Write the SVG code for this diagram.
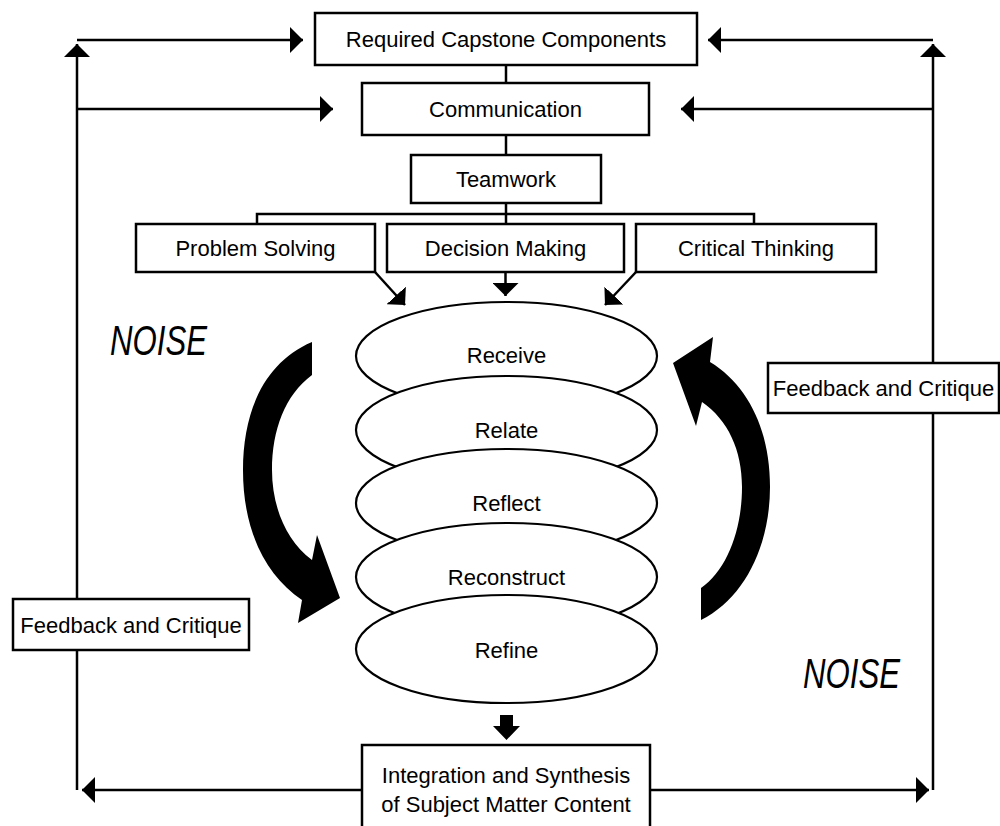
<svg xmlns="http://www.w3.org/2000/svg" width="1000" height="826" viewBox="0 0 1000 826">
<style>
.box{fill:#fff;stroke:#000;stroke-width:2.5}
.ell{fill:#fff;stroke:#000;stroke-width:2.2}
.ln{fill:none;stroke:#000;stroke-width:2.5}
.t{font-family:"Liberation Sans",Arial,sans-serif;font-size:22px;fill:#000;text-anchor:middle}
.noise{font-family:"Liberation Sans",Arial,sans-serif;font-size:42px;font-style:italic;fill:#000}
.blk{fill:#000;stroke:none}
</style>
<defs>
<marker id="ah" markerUnits="userSpaceOnUse" markerWidth="13" markerHeight="26" refX="13" refY="13" orient="auto" viewBox="0 0 13 26">
<path d="M0,0 L13,13 L0,26 Z" fill="#000"/>
</marker>
</defs>
<rect width="1000" height="826" fill="#fff"/>
<g id="connectors">
<line class="ln" x1="77" y1="790" x2="77" y2="44" marker-end="url(#ah)"/>
<line class="ln" x1="933" y1="790" x2="933" y2="44" marker-end="url(#ah)"/>
<line class="ln" x1="77" y1="40" x2="303" y2="40" marker-end="url(#ah)"/>
<line class="ln" x1="76" y1="109" x2="333" y2="109" marker-end="url(#ah)"/>
<line class="ln" x1="933" y1="40" x2="708" y2="40" marker-end="url(#ah)"/>
<line class="ln" x1="934" y1="109" x2="681" y2="109" marker-end="url(#ah)"/>
<line class="ln" x1="506" y1="790" x2="82" y2="790" marker-end="url(#ah)"/>
<line class="ln" x1="506" y1="790" x2="929" y2="790" marker-end="url(#ah)"/>
<line class="ln" x1="506" y1="65" x2="506" y2="83"/>
<line class="ln" x1="506" y1="135" x2="506" y2="155"/>
<line class="ln" x1="506" y1="203" x2="506" y2="224"/>
<polyline class="ln" points="257,224 257,214 754,214 754,224"/>
<line class="ln" x1="375" y1="272" x2="405" y2="305" marker-end="url(#ah)"/>
<line class="ln" x1="505.5" y1="272" x2="505.5" y2="296" marker-end="url(#ah)"/>
<line class="ln" x1="636" y1="272" x2="605" y2="305" marker-end="url(#ah)"/>
<polygon class="blk" points="500,715 513,715 513,726 520,726 506.5,740 493,726 500,726"/>
<path class="blk" d="M312,342 C265,362 243,410 243,470 C243,530 265,575 302,600 L298,623 L340,598 L317,535 L312,560 C285,540 272,505 272,470 C272,430 285,395 312,375 Z"/>
<path class="blk" d="M701,620 C745,598 770,545 770,487 C770,430 748,385 710,362 L713,337 L673,363 L696,426 L702,402 C728,420 742,450 742,487 C742,530 727,570 701,588 Z"/>
</g>
<g id="required">
<rect class="box" x="315" y="13" width="382" height="52"/>
<text class="t" x="506" y="47">Required Capstone Components</text>
</g>
<g id="communication">
<rect class="box" x="362" y="83" width="287" height="52"/>
<text class="t" x="505.5" y="117">Communication</text>
</g>
<g id="teamwork">
<rect class="box" x="411" y="155" width="190" height="48"/>
<text class="t" x="506" y="187">Teamwork</text>
</g>
<g id="problem">
<rect class="box" x="136" y="224" width="239" height="48"/>
<text class="t" x="255.5" y="256">Problem Solving</text>
</g>
<g id="decision">
<rect class="box" x="387" y="224" width="237" height="48"/>
<text class="t" x="505.5" y="256">Decision Making</text>
</g>
<g id="critical">
<rect class="box" x="636" y="224" width="240" height="48"/>
<text class="t" x="756" y="256">Critical Thinking</text>
</g>
<g id="receive">
<ellipse class="ell" cx="506.5" cy="356" rx="150.5" ry="54"/>
<text class="t" x="506.5" y="363">Receive</text>
</g>
<g id="relate">
<ellipse class="ell" cx="506.5" cy="430" rx="150.5" ry="54"/>
<text class="t" x="506.5" y="438">Relate</text>
</g>
<g id="reflect">
<ellipse class="ell" cx="506.5" cy="503" rx="150.5" ry="54"/>
<text class="t" x="506.5" y="511">Reflect</text>
</g>
<g id="reconstruct">
<ellipse class="ell" cx="506.5" cy="577" rx="150.5" ry="54"/>
<text class="t" x="506.5" y="585">Reconstruct</text>
</g>
<g id="refine">
<ellipse class="ell" cx="506.5" cy="649" rx="150.5" ry="54"/>
<text class="t" x="506.5" y="658">Refine</text>
</g>
<g id="integration">
<rect class="box" x="362" y="745" width="288" height="90"/>
<text class="t" x="506" y="783">Integration and Synthesis</text>
<text class="t" x="506" y="812">of Subject Matter Content</text>
</g>
<g id="feedback-left">
<rect class="box" x="13" y="599" width="236" height="51"/>
<text class="t" x="131" y="633">Feedback and Critique</text>
</g>
<g id="feedback-right">
<rect class="box" x="768" y="363" width="231" height="50"/>
<text class="t" x="883.5" y="396">Feedback and Critique</text>
</g>
<g id="noise-left">
<text class="noise" x="110" y="355" textLength="97" lengthAdjust="spacingAndGlyphs">NOISE</text>
</g>
<g id="noise-right">
<text class="noise" x="803" y="688" textLength="97" lengthAdjust="spacingAndGlyphs">NOISE</text>
</g>
</svg>
